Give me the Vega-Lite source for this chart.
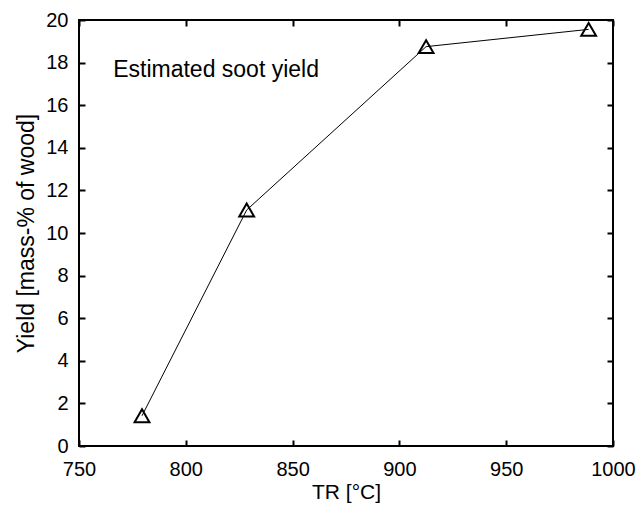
{
  "$schema": "https://vega.github.io/schema/vega-lite/v6.json",
  "autosize": "none",
  "padding": {"left": 79, "top": 20, "right": 28, "bottom": 67},
  "width": 534,
  "height": 426,
  "background": "white",
  "config": {
    "font": "Liberation Sans",
    "view": {"stroke": "black", "strokeWidth": 2},
    "axis": {
      "domain": false,
      "grid": false,
      "tickColor": "black",
      "tickWidth": 2,
      "tickSize": -6,
      "labelColor": "black",
      "labelFontSize": 20,
      "labelFont": "Liberation Sans",
      "labelFlush": false,
      "labelOverlap": false,
      "titleFont": "Liberation Sans",
      "titleFontWeight": "normal",
      "titleColor": "black",
      "format": "d"
    }
  },
  "datasets": {
    "pts": [
      {"T": 779.5, "Y": 1.42},
      {"T": 828.5, "Y": 11.08},
      {"T": 912.5, "Y": 18.75},
      {"T": 988.6, "Y": 19.56}
    ],
    "lbl": [{"T": 766, "Y": 17.65, "text": "Estimated soot yield"}]
  },
  "layer": [
    {
      "data": {"name": "pts"},
      "mark": {"type": "line", "color": "black", "strokeWidth": 1},
      "encoding": {
        "x": {"field": "T", "type": "quantitative", "scale": {"domain": [750, 1000], "nice": false},
          "axis": {"values": [750, 800, 850, 900, 950, 1000], "title": "TR [°C]", "titleFontSize": 21, "labelPadding": 19, "titlePadding": 2}},
        "y": {"field": "Y", "type": "quantitative", "scale": {"domain": [0, 20], "nice": false},
          "axis": {"values": [0, 2, 4, 6, 8, 10, 12, 14, 16, 18, 20], "title": "Yield [mass-% of wood]", "titleFontSize": 23, "labelPadding": 17, "titlePadding": 7}}
      }
    },
    {
      "data": {"name": "pts"},
      "mark": {"type": "point", "shape": "triangle-up", "filled": false, "color": "black", "strokeWidth": 2, "size": 220, "opacity": 1},
      "encoding": {
        "x": {"field": "T", "type": "quantitative",
          "axis": {"orient": "top", "values": [750, 800, 850, 900, 950, 1000], "labels": false, "title": null}},
        "y": {"field": "Y", "type": "quantitative",
          "axis": {"orient": "right", "values": [0, 2, 4, 6, 8, 10, 12, 14, 16, 18, 20], "labels": false, "title": null}}
      }
    },
    {
      "data": {"name": "lbl"},
      "mark": {"type": "text", "align": "left", "baseline": "middle", "fontSize": 23, "font": "Liberation Sans", "color": "black"},
      "encoding": {
        "x": {"field": "T", "type": "quantitative", "axis": null},
        "y": {"field": "Y", "type": "quantitative", "axis": null},
        "text": {"field": "text"}
      }
    }
  ],
  "resolve": {"axis": {"x": "independent", "y": "independent"}}
}
